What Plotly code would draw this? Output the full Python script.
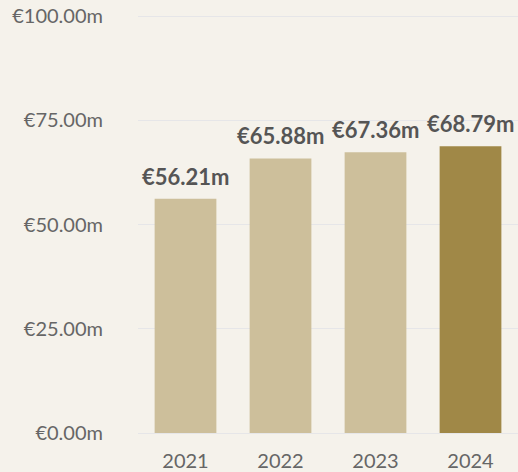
import plotly.graph_objects as go

years = ["2021", "2022", "2023", "2024"]
values = [56.21, 65.88, 67.36, 68.79]
bar_colors = ["#cdbf9b", "#cdbf9b", "#cdbf9b", "#a08847"]
tick_vals = [0, 25, 50, 75, 100]
tick_text = ["€0.00m", "€25.00m", "€50.00m", "€75.00m", "€100.00m"]
labels = [f"€{v:.2f}m" for v in values]

fig = go.Figure()
fig.add_trace(go.Bar(
    x=years, y=values,
    marker=dict(color=bar_colors, line=dict(width=0)),
    hoverinfo="skip",
))

for i, (v, lab) in enumerate(zip(values, labels)):
    fig.add_annotation(x=i, y=v, xref="x", yref="y", text=lab, showarrow=False,
                       yanchor="bottom", yshift=7,
                       font=dict(family="Lato", size=22, color="#555555", weight="bold"))

fig.update_layout(
    width=518, height=472,
    margin=dict(l=138, r=0, t=15, b=39),
    paper_bgcolor="#f5f2eb", plot_bgcolor="#f5f2eb",
    bargap=0.35,
    showlegend=False,
    font=dict(family="Lato", size=20, color="#666666"),
    xaxis=dict(type="category", range=[-0.5, len(years) - 0.5],
               showgrid=False, showline=False, ticks="", ticklabelstandoff=14,
               tickfont=dict(size=20, color="#666666")),
    yaxis=dict(range=[0, 100.3], tickvals=tick_vals, ticktext=tick_text,
               showgrid=True, gridcolor="#e6e6e8", gridwidth=1,
               zeroline=True, zerolinecolor="#e6e6e8", zerolinewidth=1,
               showline=False, ticks="", ticklabelstandoff=34,
               tickfont=dict(size=20, color="#666666")),
)

fig.write_html("out.html", config={"displayModeBar": False},
               post_script="document.body.style.margin='0';")
